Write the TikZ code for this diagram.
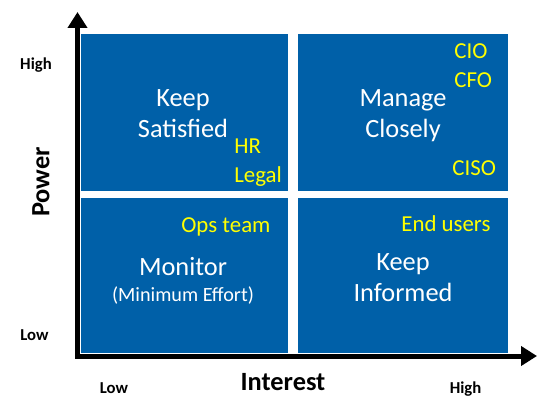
\documentclass[tikz,border=0pt]{standalone}
\usepackage{fontspec}
\setmainfont{Carlito}
\usetikzlibrary{arrows.meta,positioning,calc}
\definecolor{quadblue}{RGB}{0,96,168}
\definecolor{whoyellow}{RGB}{255,255,0}

\begin{document}
\begin{tikzpicture}[>={Triangle[length=0.32cm, width=0.38cm]}, quad/.style={fill=quadblue, inner sep=0pt}, main/.style={text=white, align=center, inner sep=0pt, font=\fontsize{15}{17.6}\selectfont}, who/.style={text=whoyellow, align=left, inner sep=0pt, font=\fontsize{13}{16.5}\selectfont}, tick/.style={inner sep=0pt, font=\fontsize{9.5}{11}\selectfont\bfseries}]
\useasboundingbox (0,0) rectangle (10.98,8.22);
% quadrants
\node[quad, minimum width=4.14cm, minimum height=3.14cm] (satisfied) at (3.69,5.97) {};
\node[quad, minimum width=4.20cm, minimum height=3.14cm] (manage) at (8.06,5.97) {};
\node[quad, minimum width=4.14cm, minimum height=3.10cm] (monitor) at (3.69,2.71) {};
\node[quad, minimum width=4.20cm, minimum height=3.10cm] (informed) at (8.06,2.71) {};
% strategies (base = last line)
\node[main, anchor=base] (keepsat) at (3.66,5.48) {Keep\\Satisfied};
\node[main, anchor=base] (mgclose) at (8.06,5.48) {Manage\\Closely};
\node[main, anchor=base] (mon) at (3.66,2.72) {Monitor};
\node[main, anchor=base, font=\fontsize{11.5}{13}\selectfont] (mineff) at (3.66,2.20) {(Minimum Effort)};
\node[main, anchor=base] (keepinf) at (8.06,2.20) {Keep\\Informed};
% stakeholders
\node[who, anchor=base west] (hr) at (4.68,4.58) {HR\\Legal};
\node[who, anchor=base west] (cxo) at (9.08,6.48) {CIO\\CFO};
\node[who, anchor=base west] (ciso) at (9.04,4.72) {CISO};
\node[who, anchor=base west] (ops) at (3.62,3.58) {Ops team};
\node[who, anchor=base west] (users) at (8.02,3.60) {End users};
% axes
\coordinate (corner) at (1.55,1.10);
\coordinate (ytip) at (1.55,7.98);
\coordinate (xtip) at (10.74,1.10);
\draw[<->, line width=0.1cm] (ytip) |- (xtip);
\node[inner sep=0pt, rotate=90, font=\fontsize{15}{18}\selectfont\bfseries] (power) at (0.82,4.58) {Power};
\node[inner sep=0pt, font=\fontsize{15}{18}\selectfont\bfseries] (interest) at (5.66,0.58) {Interest};
\node[tick, anchor=base] (yhigh) at (0.72,6.84) {High};
\node[tick, anchor=base] (ylow) at (0.69,1.42) {Low};
\node[tick, anchor=base] (xlow) at (2.28,0.36) {Low};
\node[tick, anchor=base] (xhigh) at (9.31,0.36) {High};
\end{tikzpicture}
\end{document}
